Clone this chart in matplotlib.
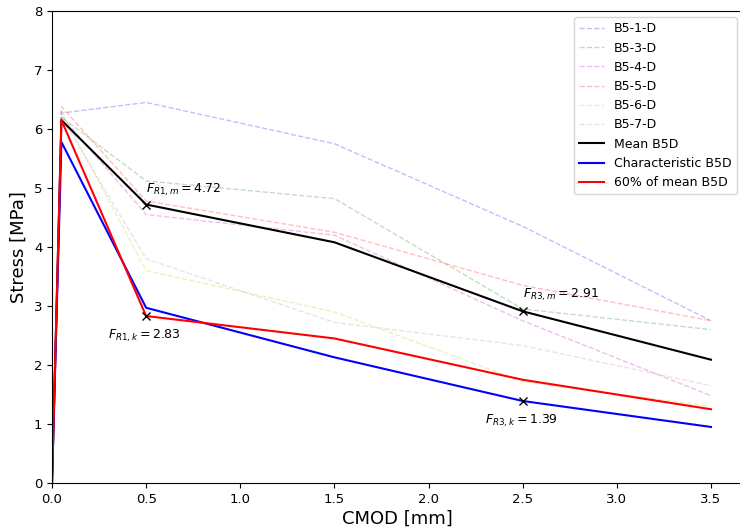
import matplotlib
matplotlib.use("Agg")
import matplotlib.pyplot as plt

# CMOD points [mm]
cmod = [0.0, 0.05, 0.5, 1.5, 2.5, 3.5]

# individual specimens [MPa]
b51 = [0.0, 6.27, 6.45, 5.75, 4.35, 2.75]
b53 = [0.0, 6.20, 5.12, 4.82, 2.95, 2.60]
b54 = [0.0, 6.22, 4.55, 4.20, 2.75, 1.48]
b55 = [0.0, 6.38, 4.78, 4.25, 3.35, 2.75]
b56 = [0.0, 6.30, 3.60, 2.90, 1.72, 1.30]
b57 = [0.0, 6.20, 3.80, 2.72, 2.33, 1.65]

media = [0.0, 6.15, 4.72, 4.08, 2.91, 2.09]
caract = [0.0, 5.78, 2.97, 2.13, 1.39, 0.95]
sessenta = [0.0, 6.15, 2.83, 2.45, 1.75, 1.25]

especimes = [("B5-1-D", b51, "b"), ("B5-3-D", b53, "g"), ("B5-4-D", b54, "m"),
             ("B5-5-D", b55, "r"), ("B5-6-D", b56, "y"), ("B5-7-D", b57, "#b58aa0")]


def main():
    fig = plt.figure(figsize=(7.4, 5.31), dpi=100)
    ax = fig.add_axes([52 / 740, 1 - 483 / 531, 1 - 52 / 740 + 0.004, (483 - 11) / 531])

    for nome, vals, cor in especimes:
        ax.plot(cmod, vals, "--", color=cor, alpha=0.25, linewidth=1, label=nome)

    ax.plot(cmod, media, "k-", linewidth=1.5, label="Mean B5D")
    ax.plot(cmod, caract, "b-", linewidth=1.5, label="Characteristic B5D")
    ax.plot(cmod, sessenta, "r-", linewidth=1.5, label="60% of mean B5D")

    # valores residuais
    ax.plot([0.5, 2.5], [media[2], media[4]], "kx", markersize=6)
    ax.plot([0.5, 2.5], [sessenta[2], caract[4]], "kx", markersize=6)
    ax.text(0.5, 4.97, r"$F_{R1,m} = %.2f$" % media[2], fontsize=9, va="center")
    ax.text(0.3, 2.5, r"$F_{R1,k} = %.2f$" % sessenta[2], fontsize=9, va="center")
    ax.text(2.5, 3.19, r"$F_{R3,m} = %.2f$" % media[4], fontsize=9, va="center")
    ax.text(2.3, 1.06, r"$F_{R3,k} = %.2f$" % caract[4], fontsize=9, va="center")

    ax.set_xlim(0, 3.67)
    ax.set_ylim(0, 8)
    ax.tick_params(labelsize=9.5)
    ax.set_xlabel("CMOD [mm]", fontsize=13, labelpad=3)
    ax.set_ylabel("Stress [MPa]", fontsize=13)
    ax.legend(loc="upper right", fontsize=9)

    fig.savefig("out.png", dpi=100)
    plt.close(fig)


if __name__ == "__main__":
    main()
